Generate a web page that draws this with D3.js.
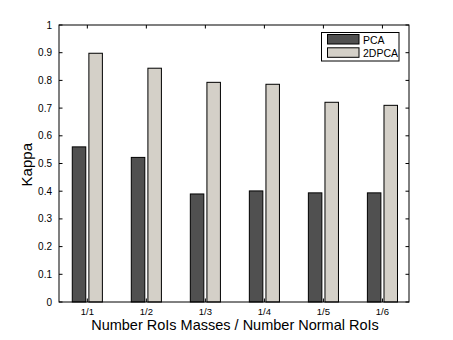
<!DOCTYPE html>
<html><head><meta charset="utf-8">
<script src="https://cdn.jsdelivr.net/npm/d3@7"></script>
<style>body{margin:0;background:#fff}svg{display:block}text{font-family:"Liberation Sans",Arial,sans-serif;fill:#000}</style>
</head><body><svg id="c" width="453" height="340"></svg>
<script>
const categories = ["1/1","1/2","1/3","1/4","1/5","1/6"];
const seriesNames = ["PCA","2DPCA"];
const pcaValues = [0.56, 0.522, 0.39, 0.401, 0.394, 0.394];
const dpcaValues = [0.898, 0.844, 0.793, 0.786, 0.721, 0.71];
const yTicks = [0,0.1,0.2,0.3,0.4,0.5,0.6,0.7,0.8,0.9,1];
const colors = ["#505050","#d4d0c8"];

const svg = d3.select("#c");
const L=59, R=409, T=25, B=302;
const x = d3.scaleLinear().domain([0.52, 6.45]).range([L, R]);
const y = d3.scaleLinear().domain([0,1]).range([B, T]);
const bw = 13.5, off = 8.3;
const series = [pcaValues, dpcaValues];

series.forEach((vals, s) => {
  svg.append("g").selectAll("rect").data(vals).join("rect")
    .attr("x", (d,i) => x(i+1) + (s===0 ? -off : off) - bw/2)
    .attr("y", d => y(d))
    .attr("width", bw)
    .attr("height", d => y(0) - y(d))
    .attr("fill", colors[s]).attr("stroke", "#000").attr("stroke-width", 1);
});

// axes box
svg.append("rect").attr("x",L).attr("y",T).attr("width",R-L).attr("height",B-T)
  .attr("fill","none").attr("stroke","#000").attr("stroke-width",1);

const tl = 3.5;
const g = svg.append("g").attr("stroke","#000").attr("stroke-width",1);
yTicks.forEach(t => {
  g.append("line").attr("x1",L).attr("x2",L+tl).attr("y1",y(t)).attr("y2",y(t));
  g.append("line").attr("x1",R).attr("x2",R-tl).attr("y1",y(t)).attr("y2",y(t));
});
categories.forEach((c,i) => {
  g.append("line").attr("x1",x(i+1)).attr("x2",x(i+1)).attr("y1",B).attr("y2",B-tl);
  g.append("line").attr("x1",x(i+1)).attr("x2",x(i+1)).attr("y1",T).attr("y2",T+tl);
});

svg.append("g").selectAll("text").data(yTicks).join("text")
  .attr("x", L-7).attr("y", d => y(d)+3.5).attr("text-anchor","end")
  .attr("font-size",10).text(d => d3.format("~g")(d));

svg.append("g").selectAll("text").data(categories).join("text")
  .attr("x",(d,i)=>x(i+1)).attr("y",314.5).attr("text-anchor","middle")
  .attr("font-size",9.5).text(d=>d);

svg.append("text").attr("x",235).attr("y",330).attr("text-anchor","middle")
  .attr("font-size",14.5).text("Number RoIs Masses / Number Normal RoIs");
svg.append("text").attr("transform","translate(31.5,164.7) rotate(-90)")
  .attr("text-anchor","middle").attr("font-size",15).text("Kappa");

// legend
const lg = svg.append("g");
lg.append("rect").attr("x",321.5).attr("y",32.5).attr("width",77.5).attr("height",28.5)
  .attr("fill","#fff").attr("stroke","#000");
seriesNames.forEach((n,i)=>{
  lg.append("rect").attr("x",327.5).attr("y",34.5+i*13.3).attr("width",31.5).attr("height",9.5)
    .attr("fill",colors[i]).attr("stroke","#000");
  lg.append("text").attr("x",363).attr("y",43.5+i*13.3).attr("font-size",10.5).text(n);
});
</script></body></html>
